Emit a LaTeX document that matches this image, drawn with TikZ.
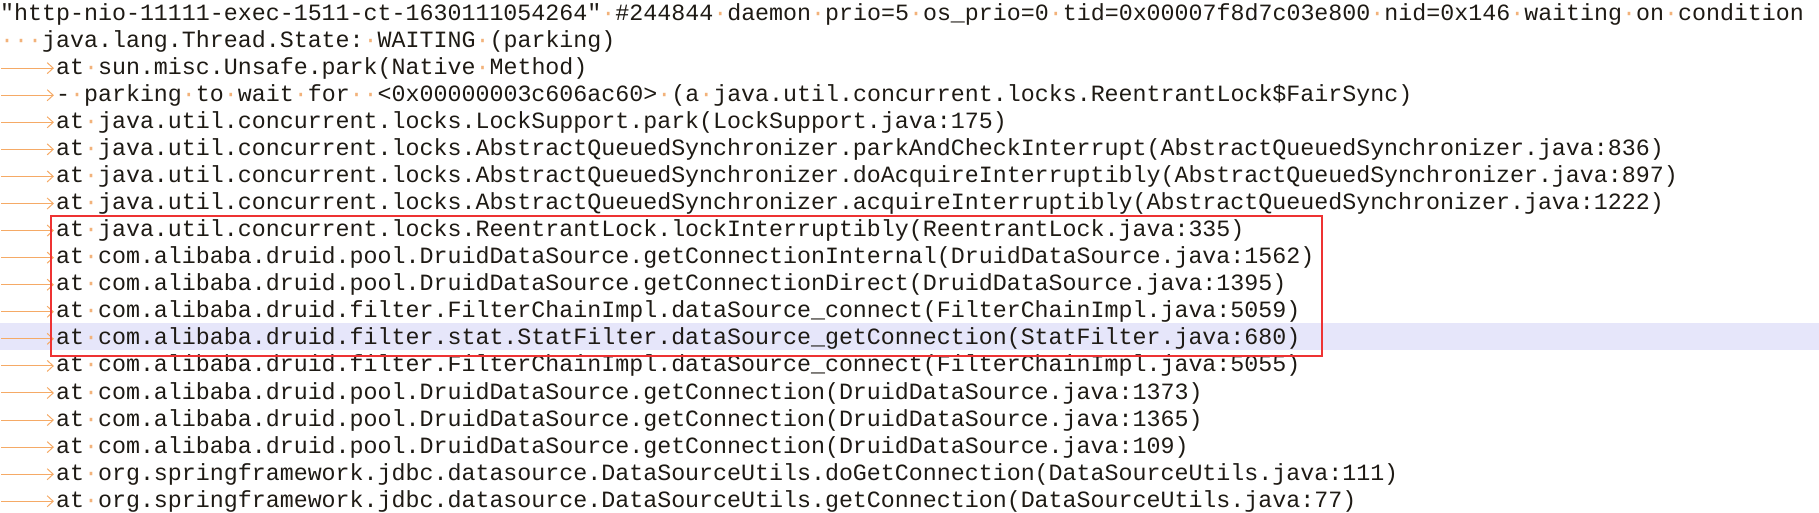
\documentclass[tikz,border=0pt]{standalone}
\usepackage{fontspec}
\usetikzlibrary{arrows.meta}
\newfontfamily\mono{Liberation Mono}
\definecolor{txt}{HTML}{1E1A14}
\definecolor{dotc}{HTML}{F2B27A}
\definecolor{arr}{HTML}{F5AA66}
\definecolor{boxc}{HTML}{EE3333}
\definecolor{hl}{HTML}{E6E6FA}
\catcode`\·=\active
\def·{\textcolor{dotc}{\char"B7}}
\begin{document}
\begin{tikzpicture}[x=1pt,y=-1pt,
  ln/.style={anchor=west,inner sep=0pt,font=\mono\fontsize{23.3}{24}\selectfont,text=txt},
  tabarrow/.style={draw=arr,line width=1pt,-{Straight Barb[length=6pt,width=11pt]}}]
\useasboundingbox (0,0) rectangle (1819,512);
\fill[hl] (0,323) rectangle (1819,350);
\def\L#1#2#3{\node[ln] (l#1) at (#2*13.98,{14+27.07*(#1-1)}) {#3};}
\L{1}{0}{"http-nio-11111-exec-1511-ct-1630111054264"·\#244844·daemon·prio=5·os\_prio=0·tid=0x00007f8d7c03e800·nid=0x146·waiting·on·condition}
\L{2}{0}{···java.lang.Thread.State:·WAITING·(parking)}
\L{3}{4}{at·sun.misc.Unsafe.park(Native·Method)}
\L{4}{4}{-·parking·to·wait·for··<0x00000003c606ac60>·(a·java.util.concurrent.locks.ReentrantLock\$FairSync)}
\L{5}{4}{at·java.util.concurrent.locks.LockSupport.park(LockSupport.java:175)}
\L{6}{4}{at·java.util.concurrent.locks.AbstractQueuedSynchronizer.parkAndCheckInterrupt(AbstractQueuedSynchronizer.java:836)}
\L{7}{4}{at·java.util.concurrent.locks.AbstractQueuedSynchronizer.doAcquireInterruptibly(AbstractQueuedSynchronizer.java:897)}
\L{8}{4}{at·java.util.concurrent.locks.AbstractQueuedSynchronizer.acquireInterruptibly(AbstractQueuedSynchronizer.java:1222)}
\L{9}{4}{at·java.util.concurrent.locks.ReentrantLock.lockInterruptibly(ReentrantLock.java:335)}
\L{10}{4}{at·com.alibaba.druid.pool.DruidDataSource.getConnectionInternal(DruidDataSource.java:1562)}
\L{11}{4}{at·com.alibaba.druid.pool.DruidDataSource.getConnectionDirect(DruidDataSource.java:1395)}
\L{12}{4}{at·com.alibaba.druid.filter.FilterChainImpl.dataSource\_connect(FilterChainImpl.java:5059)}
\L{13}{4}{at·com.alibaba.druid.filter.stat.StatFilter.dataSource\_getConnection(StatFilter.java:680)}
\L{14}{4}{at·com.alibaba.druid.filter.FilterChainImpl.dataSource\_connect(FilterChainImpl.java:5055)}
\L{15}{4}{at·com.alibaba.druid.pool.DruidDataSource.getConnection(DruidDataSource.java:1373)}
\L{16}{4}{at·com.alibaba.druid.pool.DruidDataSource.getConnection(DruidDataSource.java:1365)}
\L{17}{4}{at·com.alibaba.druid.pool.DruidDataSource.getConnection(DruidDataSource.java:109)}
\L{18}{4}{at·org.springframework.jdbc.datasource.DataSourceUtils.doGetConnection(DataSourceUtils.java:111)}
\L{19}{4}{at·org.springframework.jdbc.datasource.DataSourceUtils.getConnection(DataSourceUtils.java:77)}
\foreach \i in {3,...,19}{
  \coordinate (a\i) at (1,{14+27.07*(\i-1)});
  \draw[tabarrow] (a\i) -- ([xshift=-2pt]l\i.west);
}
\coordinate (bx1) at (51,216);
\coordinate (bx2) at (1322,356);
\draw[boxc,line width=2.8pt] (bx1) rectangle (bx2);
\end{tikzpicture}
\end{document}
